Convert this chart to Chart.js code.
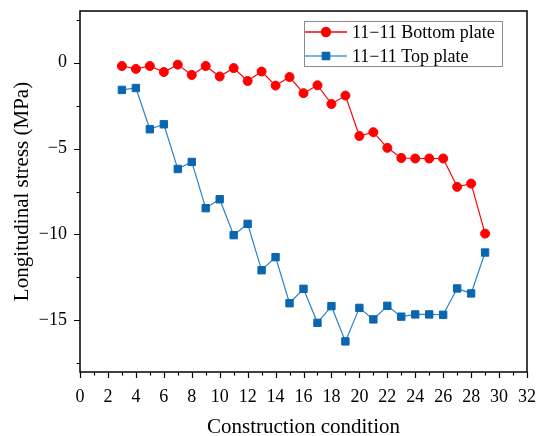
<!DOCTYPE html>
<html>
<head>
<meta charset="utf-8">
<title>Longitudinal stress</title>
<script src="https://cdn.jsdelivr.net/npm/chart.js@4/dist/chart.umd.min.js"></script>
<style>
  html, body { margin: 0; padding: 0; background: #fff; }
  #wrap { width: 537px; height: 436px; position: relative; }
</style>
</head>
<body>
<div id="wrap"><canvas id="stress"></canvas></div>
<script>
// construction conditions along the x axis
const conditions = [3, 4, 5, 6, 7, 8, 9, 10, 11, 12, 13, 14, 15, 16, 17, 18, 19, 20, 21, 22, 23, 24, 25, 26, 27, 28, 29];

// longitudinal stress (MPa), section 11-11
const bottomPlate = [-0.2, -0.37, -0.2, -0.55, -0.12, -0.72, -0.2, -0.81, -0.32, -1.07, -0.52, -1.34, -0.84, -1.78,
  -1.32, -2.41, -1.92, -4.27, -4.05, -4.96, -5.55, -5.58, -5.58, -5.58, -7.23, -7.04, -9.95];
const topPlate = [-1.59, -1.48, -3.88, -3.59, -6.19, -5.78, -8.47, -7.95, -10.04, -9.38, -12.08, -11.32, -14.0, -13.16,
  -15.14, -14.17, -16.22, -14.27, -14.94, -14.15, -14.78, -14.65, -14.65, -14.67, -13.14, -13.43, -11.05];

const xTicks = [0, 2, 4, 6, 8, 10, 12, 14, 16, 18, 20, 22, 24, 26, 28, 30, 32];
const yTicks = [-15, -10, -5, 0];

const FONT = '"Liberation Serif", "Times New Roman", serif';

function toPoints(values) {
  return values.map((v, i) => ({ x: conditions[i], y: v }));
}

// box around the plot + major/minor tick marks pointing outwards
const frameTicks = {
  id: 'frameTicks',
  afterDraw(chart) {
    const { ctx, chartArea: a, scales } = chart;
    ctx.save();
    ctx.strokeStyle = '#000';
    ctx.lineWidth = 1.5;
    ctx.strokeRect(a.left, a.top, a.right - a.left, a.bottom - a.top);

    ctx.lineWidth = 1.2;
    ctx.beginPath();
    for (let v = 0; v <= 32; v++) {
      const px = Math.round(scales.x.getPixelForValue(v)) + 0.5;
      const len = v % 2 === 0 ? 6 : 3.5;
      ctx.moveTo(px, a.bottom);
      ctx.lineTo(px, a.bottom + len);
    }
    for (let v = -17.5; v <= 3; v += 2.5) {
      const py = Math.round(scales.y.getPixelForValue(v)) + 0.5;
      const len = v % 5 === 0 ? 6 : 3.5;
      ctx.moveTo(a.left, py);
      ctx.lineTo(a.left - len, py);
    }
    ctx.stroke();
    ctx.restore();
  }
};

// legend drawn as line + marker + label inside a grey box
const boxLegend = {
  id: 'boxLegend',
  afterDraw(chart) {
    const ctx = chart.ctx;
    const box = { x: 304, y: 21, w: 198, h: 45 };
    ctx.save();
    ctx.fillStyle = '#fff';
    ctx.fillRect(box.x, box.y, box.w, box.h);
    ctx.strokeStyle = '#8a8a8a';
    ctx.lineWidth = 1;
    ctx.strokeRect(box.x + 0.5, box.y + 0.5, box.w, box.h);

    chart.data.datasets.forEach((ds, i) => {
      const y = box.y + 11 + i * 24;
      ctx.strokeStyle = ds.legendLine;
      ctx.lineWidth = 1.3;
      ctx.beginPath();
      ctx.moveTo(box.x + 1, y);
      ctx.lineTo(box.x + 43, y);
      ctx.stroke();
      ctx.fillStyle = ds.pointBackgroundColor;
      ctx.strokeStyle = ds.pointBorderColor;
      Chart.helpers.drawPoint(ctx, {
        pointStyle: ds.pointStyle, radius: ds.pointRadius, rotation: 0, borderWidth: 1
      }, box.x + 22, y);
      ctx.fillStyle = '#000';
      ctx.font = '18px ' + FONT;
      ctx.textBaseline = 'middle';
      ctx.fillText(ds.label, box.x + 48, y + 1);
    });
    ctx.restore();
  }
};

new Chart(document.getElementById('stress'), {
  type: 'line',
  data: {
    datasets: [
      {
        label: '11\u221211 Bottom plate',
        data: toPoints(bottomPlate),
        borderColor: '#ff0000',
        legendLine: '#ff0000',
        borderWidth: 1.2,
        pointStyle: 'circle',
        pointRadius: 4.5,
        pointBackgroundColor: '#ff0000',
        pointBorderColor: '#ff0000',
        pointBorderWidth: 1
      },
      {
        label: '11\u221211 Top plate',
        data: toPoints(topPlate),
        borderColor: '#2a84c8',
        legendLine: '#4a9ad4',
        borderWidth: 1.2,
        pointStyle: 'rect',
        pointRadius: 5.2,
        pointBackgroundColor: '#0b66b0',
        pointBorderColor: '#0b66b0',
        pointBorderWidth: 1
      }
    ]
  },
  options: {
    responsive: true,
    maintainAspectRatio: false,
    animation: false,
    layout: { padding: { top: 11, right: 10, left: 0, bottom: 0 } },
    plugins: {
      legend: { display: false },
      tooltip: { enabled: false }
    },
    scales: {
      x: {
        type: 'linear',
        min: 0,
        max: 32,
        afterBuildTicks(scale) { scale.ticks = xTicks.map(v => ({ value: v })); },
        afterFit(scale) {
          scale.height = 64;
          scale.paddingLeft = 0;
          scale.paddingRight = 0;
        },
        grid: { display: false, drawTicks: false },
        border: { display: false },
        ticks: {
          color: '#000',
          font: { family: FONT, size: 18 },
          padding: 14,
          maxRotation: 0,
          autoSkip: false
        },
        title: {
          display: true,
          text: 'Construction condition',
          color: '#000',
          font: { family: FONT, size: 21, lineHeight: 1 },
          padding: { top: 0, bottom: -2 }
        }
      },
      y: {
        min: -18,
        max: 3,
        afterBuildTicks(scale) { scale.ticks = yTicks.map(v => ({ value: v })); },
        afterFit(scale) {
          scale.width = 80;
          scale.paddingTop = 0;
          scale.paddingBottom = 0;
        },
        grid: { display: false, drawTicks: false },
        border: { display: false },
        ticks: {
          color: '#000',
          font: { family: FONT, size: 18 },
          padding: 13,
          callback: v => v < 0 ? '\u2212' + Math.abs(v) : String(v)
        },
        title: {
          display: true,
          text: 'Longitudinal stress (MPa)',
          color: '#000',
          font: { family: FONT, size: 21, lineHeight: 1 },
          padding: { top: 12, bottom: 0 }
        }
      }
    }
  },
  plugins: [frameTicks, boxLegend]
});
</script>
</body>
</html>
